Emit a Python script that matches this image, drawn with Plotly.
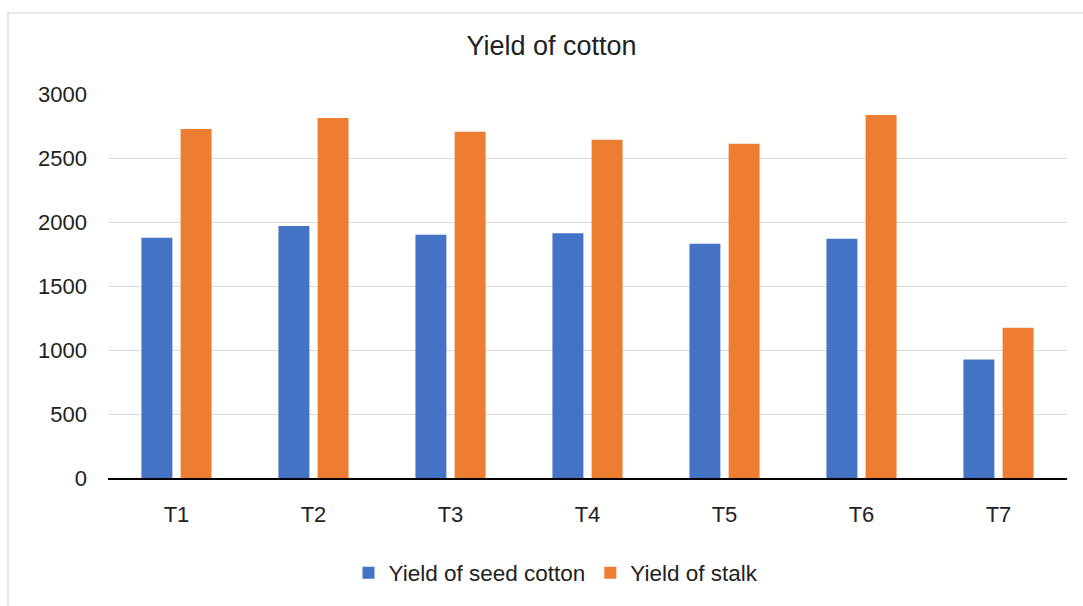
import plotly.graph_objects as go

categories = ["T1", "T2", "T3", "T4", "T5", "T6", "T7"]
seed_cotton = [1877, 1969, 1900, 1913, 1830, 1869, 925]
stalk = [2727, 2812, 2706, 2642, 2611, 2835, 1173]
y_ticks = [0, 500, 1000, 1500, 2000, 2500, 3000]

W, H = 1083, 606
L, R, T, B = 108, 16, 94, 124
pw, ph = W - L - R, H - T - B

def px_x(p):
    return (p - L) / pw

def px_y(p):
    return (H - B - p) / ph

font = "Liberation Sans, Arial, sans-serif"

fig = go.Figure()
fig.add_trace(go.Bar(x=categories, y=seed_cotton, name="Yield of seed cotton",
                     marker=dict(color="#4472C4", line=dict(width=0))))
fig.add_trace(go.Bar(x=categories, y=stalk, name="Yield of stalk",
                     marker=dict(color="#ED7D31", line=dict(width=0))))

fig.update_layout(
    width=W, height=H,
    margin=dict(l=L, r=R, t=T, b=B),
    paper_bgcolor="white", plot_bgcolor="white",
    barmode="group", bargap=0.428, bargroupgap=0.21,
    font=dict(family=font, size=22, color="#222222"),
    title=dict(text="Yield of cotton", x=551.5 / W, xanchor="center",
               y=1 - 46 / H, yanchor="middle", yref="container",
               font=dict(size=27, color="#222222", family=font)),
    showlegend=True,
    legend=dict(orientation="h", x=px_x(556), xanchor="center",
                y=px_y(578), yanchor="middle",
                font=dict(size=22.5, color="#222222", family=font),
                bgcolor="rgba(0,0,0,0)"),
    xaxis=dict(showgrid=False, showline=True, linecolor="black", linewidth=1.5,
               ticks="", ticklabelstandoff=16,
               tickfont=dict(size=22, color="#222222")),
    yaxis=dict(range=[0, 3000], tickvals=y_ticks, showgrid=True,
               gridcolor="#d9d9d9", gridwidth=1.3, zeroline=False,
               showline=False, ticks="", ticklabelstandoff=20,
               tickfont=dict(size=22, color="#222222")),
    shapes=[dict(type="rect", xref="paper", yref="paper",
                 x0=px_x(8), x1=px_x(1095), y0=px_y(620), y1=px_y(12),
                 line=dict(color="#d9d9d9", width=1.3), layer="below")],
)

fig.write_html("out.html",
               config={"displayModeBar": False},
               post_script="document.body.style.margin='0';document.body.style.overflow='hidden';")
